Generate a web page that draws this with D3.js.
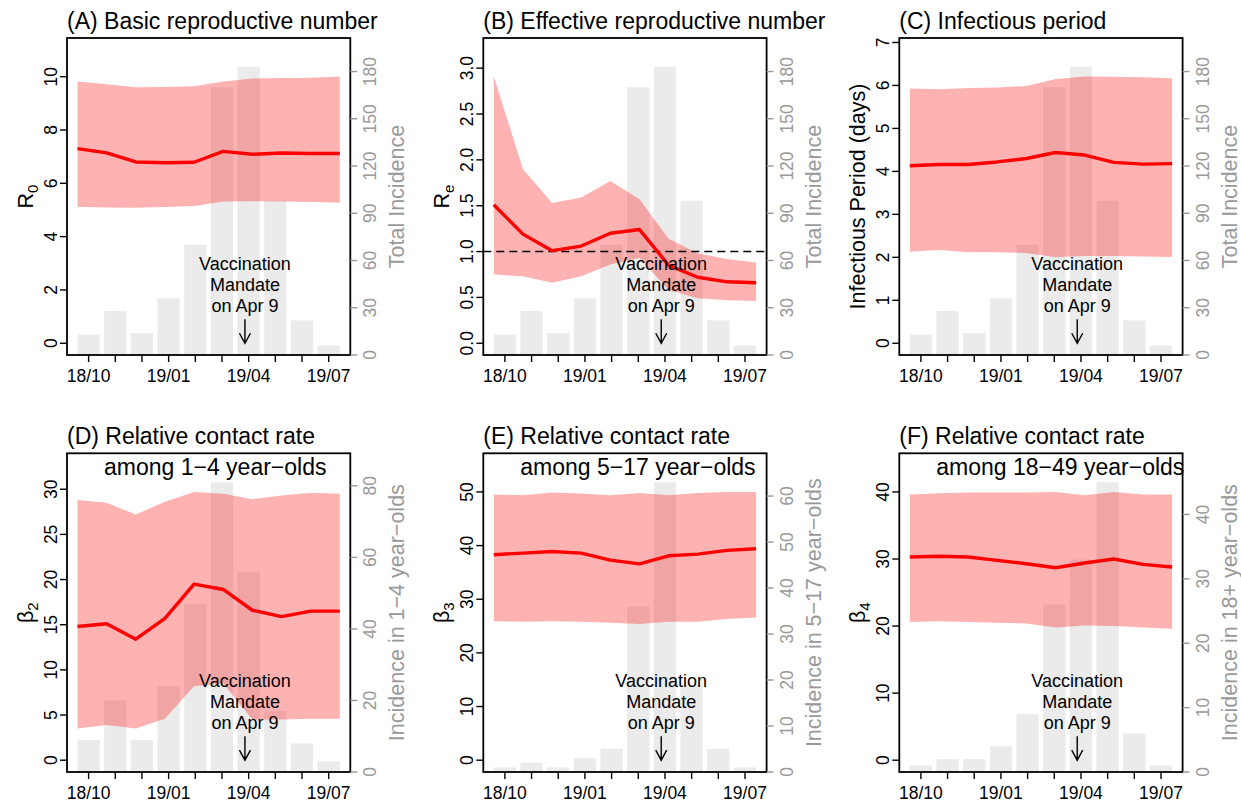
<!DOCTYPE html>
<html>
<head>
<meta charset="utf-8">
<script src="https://cdn.jsdelivr.net/npm/d3@7"></script>
<style>
  html, body { margin: 0; padding: 0; background: #fff; }
  svg { display: block; font-family: 'Liberation Sans', Arial, sans-serif; }
</style>
</head>
<body>
<script>
// months shown on the x axis (one bar per month)
const months = ['18/10', '18/11', '18/12', '19/01', '19/02', '19/03', '19/04', '19/05', '19/06', '19/07']
const monthLabels = ['18/10', '19/01', '19/04', '19/07']
const mandateMonth = 5.86 // Apr 9, in month-index units

// incidence bars
const totalIncidence = [13, 28, 14, 36, 70, 170, 183, 98, 22, 6]
const incidence1to4 = [9, 20, 9, 24, 47, 81, 56, 17, 8, 3]
const incidence5to17 = [1, 2, 1, 3, 5, 36, 63, 19, 5, 1]
const incidence18plus = [1, 2, 2, 4, 9, 26, 33, 45, 6, 1]

// estimates: median and 95% band
const r0Mid = [7.30, 7.14, 6.80, 6.77, 6.79, 7.20, 7.09, 7.14, 7.12, 7.12]
const r0Lo = [5.12, 5.09, 5.08, 5.11, 5.15, 5.32, 5.33, 5.32, 5.30, 5.27]
const r0Hi = [9.82, 9.72, 9.60, 9.61, 9.64, 9.82, 9.93, 9.95, 9.96, 10.01]

const reMid = [1.51, 1.19, 1.01, 1.06, 1.20, 1.24, 0.85, 0.72, 0.67, 0.66]
const reLo = [0.75, 0.73, 0.66, 0.73, 0.86, 0.93, 0.58, 0.49, 0.47, 0.46]
const reHi = [2.91, 1.90, 1.53, 1.59, 1.77, 1.57, 1.14, 0.98, 0.92, 0.88]

const ipMid = [4.13, 4.16, 4.16, 4.22, 4.30, 4.44, 4.38, 4.21, 4.17, 4.18]
const ipLo = [2.13, 2.17, 2.12, 2.12, 2.10, 2.00, 2.03, 2.03, 2.02, 2.01]
const ipHi = [5.93, 5.91, 5.94, 5.95, 5.99, 6.15, 6.21, 6.20, 6.19, 6.17]

const b2Mid = [14.8, 15.1, 13.4, 15.7, 19.5, 18.9, 16.6, 15.9, 16.5, 16.5]
const b2Lo = [3.5, 3.9, 3.5, 4.6, 8.2, 8.5, 4.5, 4.5, 4.6, 4.6]
const b2Hi = [28.8, 28.5, 27.2, 28.6, 29.7, 29.5, 28.9, 29.3, 29.6, 29.5]

const b3Mid = [38.3, 38.6, 38.9, 38.6, 37.3, 36.6, 38.1, 38.4, 39.1, 39.4]
const b3Lo = [25.9, 25.8, 25.9, 25.8, 25.6, 25.4, 25.8, 25.8, 26.3, 26.6]
const b3Hi = [49.5, 49.4, 49.9, 49.7, 49.4, 49.8, 49.4, 49.8, 50.0, 50.0]

const b4Mid = [30.3, 30.4, 30.3, 29.8, 29.3, 28.7, 29.4, 30.0, 29.2, 28.8]
const b4Lo = [20.6, 20.7, 20.6, 20.5, 20.4, 19.8, 20.1, 20.0, 19.8, 19.6]
const b4Hi = [39.6, 39.8, 39.9, 39.9, 39.9, 40.0, 39.5, 40.0, 39.6, 39.6]

// tick labels
const ticksR0 = [0, 2, 4, 6, 8, 10]
const ticksRe = [0, 0.5, 1, 1.5, 2, 2.5, 3]
const ticksIp = [0, 1, 2, 3, 4, 5, 6, 7]
const ticksB2 = [0, 5, 10, 15, 20, 25, 30]
const ticksB3 = [0, 10, 20, 30, 40, 50]
const ticksB4 = [0, 10, 20, 30, 40]
const ticksTotal = [0, 30, 60, 90, 120, 150, 180]
const ticks1to4 = [0, 20, 40, 60, 80]
const ticks5to17 = [0, 10, 20, 30, 40, 50, 60]
const ticks18plus = [0, 10, 20, 30, 40]

const panels = [
  { title: '(A) Basic reproductive number', ylab: ['R', '0'], rlab: 'Total Incidence',
    mid: r0Mid, lo: r0Lo, hi: r0Hi, bars: totalIncidence, lt: ticksR0, rt: ticksTotal },
  { title: '(B) Effective reproductive number', ylab: ['R', 'e'], rlab: 'Total Incidence',
    mid: reMid, lo: reLo, hi: reHi, bars: totalIncidence, lt: ticksRe, rt: ticksTotal, fmt: '.1f', ref: 1 },
  { title: '(C) Infectious period', ylab: ['Infectious Period (days)', ''], rlab: 'Total Incidence',
    mid: ipMid, lo: ipLo, hi: ipHi, bars: totalIncidence, lt: ticksIp, rt: ticksTotal },
  { title: '(D) Relative contact rate', sub: 'among 1\u22124 year\u2212olds', ylab: ['\u03b2', '2'],
    rlab: 'Incidence in 1\u22124 year\u2212olds',
    mid: b2Mid, lo: b2Lo, hi: b2Hi, bars: incidence1to4, lt: ticksB2, rt: ticks1to4 },
  { title: '(E) Relative contact rate', sub: 'among 5\u221217 year\u2212olds', ylab: ['\u03b2', '3'],
    rlab: 'Incidence in 5\u221217 year\u2212olds',
    mid: b3Mid, lo: b3Lo, hi: b3Hi, bars: incidence5to17, lt: ticksB3, rt: ticks5to17 },
  { title: '(F) Relative contact rate', sub: 'among 18\u221249 year\u2212olds', ylab: ['\u03b2', '4'],
    rlab: 'Incidence in 18+ year\u2212olds',
    mid: b4Mid, lo: b4Lo, hi: b4Hi, bars: incidence18plus, lt: ticksB4, rt: ticks18plus }
]

const colLeft = [67, 483.3, 899.3]
const rowTop = [38, 453.3]
const boxW = 283.3
const boxH = [317, 318.7]
const grey = '#999999'

const svg = d3.select('body').append('svg')
  .attr('width', 1241)
  .attr('height', 802)

panels.forEach((p, k) => {
  const left = colLeft[k % 3]
  const top = rowTop[Math.floor(k / 3)]
  const bottom = top + boxH[Math.floor(k / 3)]
  const right = left + boxW

  const x = d3.scaleLinear().domain([-0.81, 9.81]).range([left, right])
  const barW = x(1 / 1.2) - x(0)
  const xs = d3.scaleLinear().domain([0, months.length - 1])
    .range([x(-0.5 / 1.2), x(months.length - 1 + 0.5 / 1.2)])

  const ymax = 1.1 * d3.max(p.hi)
  const yL = d3.scaleLinear().domain([-0.04 * ymax, 1.04 * ymax]).range([bottom, top])
  const yR = d3.scaleLinear().domain([0, 1.1 * d3.max(p.bars)]).range([bottom, top])

  const g = svg.append('g')

  // incidence bars
  g.selectAll('rect.bar')
    .data(p.bars)
    .enter()
    .append('rect')
    .attr('x', (d, i) => x(i) - barW / 2)
    .attr('y', d => yR(d))
    .attr('width', barW)
    .attr('height', d => yR(0) - yR(d))
    .style('fill', '#ebebeb')

  const rows = p.mid.map((m, i) => ({ m, lo: p.lo[i], hi: p.hi[i] }))

  // credible band
  g.append('path')
    .datum(rows)
    .attr('d', d3.area().x((d, i) => xs(i)).y0(d => yL(d.lo)).y1(d => yL(d.hi)))
    .style('fill', 'rgba(255,0,0,0.3)')

  // reference line at 1
  if (p.ref !== undefined) {
    g.append('line')
      .attr('x1', left).attr('x2', right)
      .attr('y1', yL(p.ref)).attr('y2', yL(p.ref))
      .style('stroke', '#000')
      .style('stroke-width', 1.4)
      .style('stroke-dasharray', '8,5')
  }

  // median line
  g.append('path')
    .datum(rows)
    .attr('d', d3.line().x((d, i) => xs(i)).y(d => yL(d.m)))
    .style('fill', 'none')
    .style('stroke', '#ff0000')
    .style('stroke-width', 3.4)
    .style('stroke-linejoin', 'round')

  // vaccination mandate annotation
  const ax = x(mandateMonth)
  const tip = yL(0)
  ;['Vaccination', 'Mandate', 'on Apr 9'].forEach((t, i) => {
    g.append('text')
      .attr('x', ax)
      .attr('y', tip - 73 + i * 21)
      .attr('text-anchor', 'middle')
      .style('font-size', '18px')
      .text(t)
  })
  g.append('path')
    .attr('d', `M${ax},${tip - 24}L${ax},${tip}M${ax - 5.5},${tip - 10}L${ax},${tip}L${ax + 5.5},${tip - 10}`)
    .style('fill', 'none')
    .style('stroke', '#000')
    .style('stroke-width', 1.4)

  // box
  g.append('rect')
    .attr('x', left).attr('y', top)
    .attr('width', boxW).attr('height', bottom - top)
    .style('fill', 'none')
    .style('stroke', '#000')
    .style('stroke-width', 1.8)

  // bottom axis
  months.forEach((mo, i) => {
    g.append('line')
      .attr('x1', x(i)).attr('x2', x(i))
      .attr('y1', bottom).attr('y2', bottom + 7)
      .style('stroke', '#000').style('stroke-width', 1.4)
  })
  monthLabels.forEach(lab => {
    g.append('text')
      .attr('x', x(months.indexOf(lab)))
      .attr('y', bottom + 27)
      .attr('text-anchor', 'middle')
      .style('font-size', '17.5px')
      .text(lab)
  })

  // left axis
  const fmt = p.fmt ? d3.format(p.fmt) : d3.format('d')
  p.lt.forEach(t => {
    g.append('line')
      .attr('x1', left - 7).attr('x2', left)
      .attr('y1', yL(t)).attr('y2', yL(t))
      .style('stroke', '#000').style('stroke-width', 1.4)
    g.append('text')
      .attr('transform', `translate(${left - 10},${yL(t)}) rotate(-90)`)
      .attr('text-anchor', 'middle')
      .style('font-size', '17.5px')
      .text(fmt(t))
  })

  // right axis
  p.rt.forEach(t => {
    g.append('line')
      .attr('x1', right).attr('x2', right + 7)
      .attr('y1', yR(t)).attr('y2', yR(t))
      .style('stroke', grey).style('stroke-width', 1.4)
    g.append('text')
      .attr('transform', `translate(${right + 26},${yR(t)}) rotate(-90)`)
      .attr('text-anchor', 'middle')
      .style('font-size', '17.5px')
      .style('fill', grey)
      .text(t)
  })

  // axis titles
  const yl = g.append('text')
    .attr('transform', `translate(${left - 34},${(top + bottom) / 2}) rotate(-90)`)
    .attr('text-anchor', 'middle')
    .style('font-size', '21.5px')
  yl.append('tspan').text(p.ylab[0])
  if (p.ylab[1]) {
    yl.append('tspan')
      .attr('dy', '0.3em')
      .style('font-size', '15px')
      .text(p.ylab[1])
  }

  g.append('text')
    .attr('transform', `translate(${right + 54},${(top + bottom) / 2}) rotate(-90)`)
    .attr('text-anchor', 'middle')
    .style('font-size', '21.5px')
    .style('fill', grey)
    .text(p.rlab)

  // titles
  g.append('text')
    .attr('x', left)
    .attr('y', top - 9)
    .style('font-size', '23px')
    .text(p.title)

  if (p.sub) {
    g.append('text')
      .attr('x', left + 37)
      .attr('y', top + 22)
      .style('font-size', '23px')
      .text(p.sub)
  }
})
</script>
</body>
</html>
